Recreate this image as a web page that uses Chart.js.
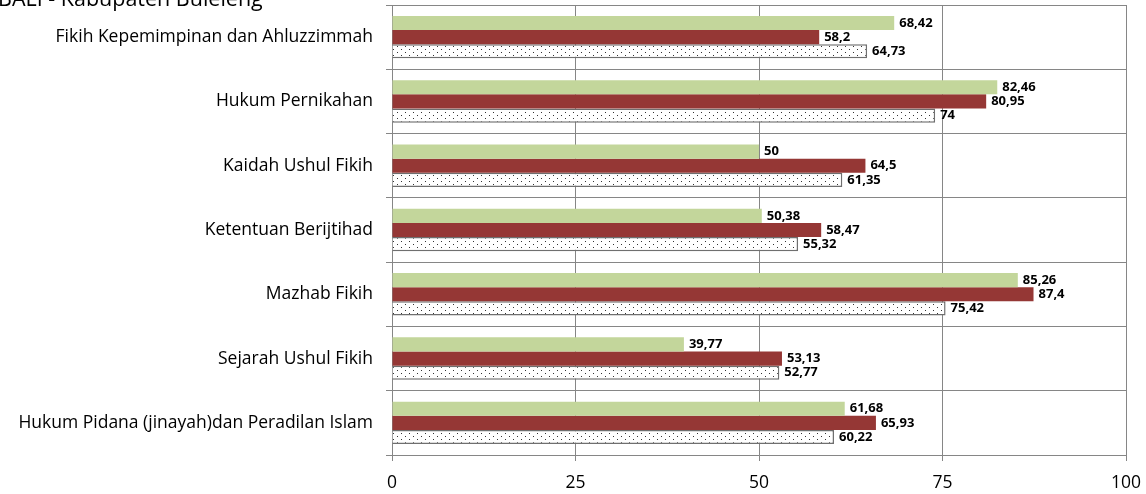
<!DOCTYPE html>
<html lang="id">
<head>
<meta charset="UTF-8">
<title>Nilai per materi</title>
<script src="https://cdn.jsdelivr.net/npm/chart.js"></script>
<style>
  body { margin: 0; background: #fff; }
  .wrap { position: relative; width: 1146px; height: 494px; overflow: hidden; }
  .judul { position: absolute; left: -2px; top: -16px; font-family: "Open Sans", sans-serif; font-size: 21.5px; line-height: 28px; color: #000; white-space: nowrap; }
</style>
</head>
<body>
<div class="wrap">
  <canvas id="grafico" width="1146" height="494"></canvas>
  <div class="judul">BALI - Kabupaten Buleleng</div>
</div>
<script>
const kategori = [
  'Fikih Kepemimpinan dan Ahluzzimmah',
  'Hukum Pernikahan',
  'Kaidah Ushul Fikih',
  'Ketentuan Berijtihad',
  'Mazhab Fikih',
  'Sejarah Ushul Fikih',
  'Hukum Pidana (jinayah)dan Peradilan Islam'
];
const seriHijau = [68.42, 82.46, 50, 50.38, 85.26, 39.77, 61.68];
const seriMerah = [58.2, 80.95, 64.5, 58.47, 87.4, 53.13, 65.93];
const seriTitik = [64.73, 74, 61.35, 55.32, 75.42, 52.77, 60.22];
const tickX = [0, 25, 50, 75, 100];

// pola titik-titik untuk seri ketiga
function polaTitik() {
  const c = document.createElement('canvas');
  c.width = 8; c.height = 6;
  const g = c.getContext('2d');
  g.fillStyle = '#fff';
  g.fillRect(0, 0, 8, 6);
  g.fillStyle = '#333';
  g.fillRect(1, 1, 1, 1);
  g.fillRect(5, 4, 1, 1);
  return g.createPattern(c, 'repeat');
}

const labelNilai = {
  id: 'labelNilai',
  afterDatasetsDraw(chart) {
    const ctx = chart.ctx;
    ctx.save();
    ctx.font = 'bold 13px "Open Sans", sans-serif';
    ctx.fillStyle = '#000';
    ctx.textBaseline = 'middle';
    chart.data.datasets.forEach((ds, i) => {
      chart.getDatasetMeta(i).data.forEach((el, j) => {
        ctx.fillText(String(ds.data[j]).replace('.', ','), el.x + 5, el.y);
      });
    });
    ctx.restore();
  }
};

const ctx = document.getElementById('grafico').getContext('2d');
const grafik = new Chart(ctx, {
  type: 'bar',
  data: {
    labels: kategori,
    datasets: [{
      label: 'Hijau',
      data: seriHijau,
      backgroundColor: '#c3d69b'
    }, {
      label: 'Merah',
      data: seriMerah,
      backgroundColor: '#953735'
    }, {
      label: 'Titik',
      data: seriTitik,
      backgroundColor: polaTitik(),
      borderColor: '#6f6f6f',
      borderWidth: 1.5
    }]
  },
  plugins: [labelNilai],
  options: {
    indexAxis: 'y',
    responsive: false,
    animation: false,
    datasets: { bar: { categoryPercentage: 0.66, barPercentage: 1 } },
    layout: { padding: { top: 5, right: 20, left: 0, bottom: 0 } },
    scales: {
      x: {
        min: 0,
        max: 100,
        afterBuildTicks: (s) => { s.ticks = tickX.map(v => ({ value: v })); },
        afterFit: (s) => { s.height = 39; s.paddingLeft = 0; s.paddingRight = 0; },
        grid: { color: '#868686', tickLength: 6 },
        border: { color: '#868686' },
        ticks: { color: '#000', font: { family: 'Open Sans', size: 17.5 }, padding: 12 }
      },
      y: {
        afterFit: (s) => { s.width = 392; s.paddingTop = 0; s.paddingBottom = 0; },
        grid: { color: '#868686', offset: true, tickLength: 6 },
        border: { color: '#868686' },
        ticks: { color: '#000', font: { family: 'Open Sans', size: 17.5 }, padding: 13 }
      }
    },
    plugins: {
      legend: { display: false },
      tooltip: { enabled: false }
    }
  }
});
</script>
</body>
</html>
